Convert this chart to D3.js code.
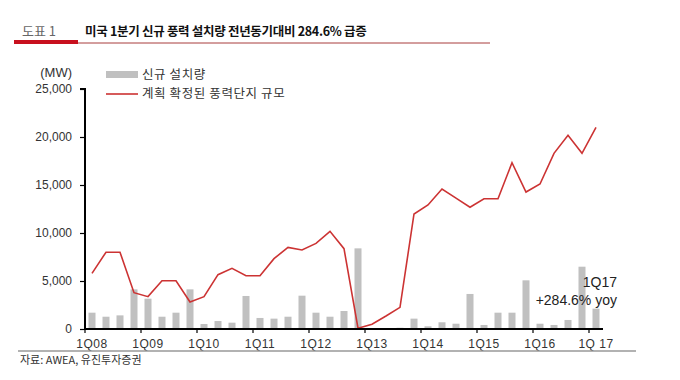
<!DOCTYPE html>
<html>
<head>
<meta charset="utf-8">
<script src="https://cdn.jsdelivr.net/npm/d3@7"></script>
<style>
  body { margin: 0; background: #fff; }
  svg { font-family: "Liberation Sans", Arial, "Noto Sans CJK KR", sans-serif; }
</style>
</head>
<body>
<svg id="chartSVG" width="680" height="380"></svg>
<script>
// quarters 1Q08 .. 1Q17
const quarters = [
  "1Q08","2Q08","3Q08","4Q08","1Q09","2Q09","3Q09","4Q09",
  "1Q10","2Q10","3Q10","4Q10","1Q11","2Q11","3Q11","4Q11",
  "1Q12","2Q12","3Q12","4Q12","1Q13","2Q13","3Q13","4Q13",
  "1Q14","2Q14","3Q14","4Q14","1Q15","2Q15","3Q15","4Q15",
  "1Q16","2Q16","3Q16","4Q16","1Q17"
];
// new installations (MW), bars
const newInstalls = [
  1700,1280,1420,4130,3160,1280,1700,4130,
  520,830,660,3440,1150,1080,1280,3470,
  1700,1280,1875,8400,100,30,130,1080,
  280,700,550,3650,420,1700,1700,5070,
  550,420,940,6490,2120
];
// confirmed wind project pipeline (MW), line
const pipeline = [
  5800,8000,8000,3780,3370,5030,5030,2810,
  3370,5660,6320,5550,5550,7330,8500,8230,
  8920,10170,8370,80,490,1350,2260,11980,
  12920,14580,13630,12680,13570,13570,17320,14270,
  15100,18300,20180,18300,21010
];
const yTicks = [0, 5000, 10000, 15000, 20000, 25000];
const yearStarts = ["1Q08","1Q09","1Q10","1Q11","1Q12","1Q13","1Q14","1Q15","1Q16","1Q17"];
const yearLabels = ["1Q08","1Q09","1Q10","1Q11","1Q12","1Q13","1Q14","1Q15","1Q16","1Q 17"];

const svg = d3.select("#chartSVG");
const plot = { left: 85, right: 603, top: 89, bottom: 329 };

const x = d3.scaleBand().domain(quarters).range([plot.left, plot.right]).paddingInner(0.5).paddingOuter(0.25);
const xc = q => x(q) + x.bandwidth() / 2;
const y = d3.scaleLinear().domain([0, 25000]).range([plot.bottom, plot.top]);

// header
svg.append("text").attr("x", 22).attr("y", 36).attr("font-size", 13).attr("fill", "#666")
  .attr("font-family", "Noto Sans CJK KR").text("도표 1");
svg.append("text").attr("x", 85).attr("y", 36).attr("font-size", 12.5).attr("font-weight", "bold")
  .attr("letter-spacing", -0.3)
  .attr("fill", "#111").attr("font-family", "Noto Sans CJK KR")
  .text("미국 1분기 신규 풍력 설치량 전년동기대비 284.6% 급증");
svg.append("rect").attr("x", 14).attr("y", 40).attr("width", 64).attr("height", 4).attr("fill", "#c8101e");
svg.append("line").attr("x1", 78).attr("x2", 490).attr("y1", 43).attr("y2", 43)
  .attr("stroke", "#a83c3c").attr("stroke-width", 1);

// bars
svg.append("g").selectAll("rect").data(quarters).join("rect")
  .attr("x", d => x(d))
  .attr("width", x.bandwidth())
  .attr("y", (d, i) => y(newInstalls[i]))
  .attr("height", (d, i) => y(0) - y(newInstalls[i]))
  .attr("fill", "#c0c0c0");

// line
const line = d3.line().x((d, i) => xc(quarters[i])).y(d => y(d));
svg.append("path").datum(pipeline).attr("d", line)
  .attr("fill", "none").attr("stroke", "#cc3333").attr("stroke-width", 1.6)
  .attr("stroke-linejoin", "miter");

// y axis
const yAxis = d3.axisLeft(y).tickValues(yTicks).tickFormat(d3.format(",")).tickSize(5).tickPadding(8);
const yg = svg.append("g").attr("transform", `translate(${plot.left},0)`).call(yAxis);
yg.select(".domain").attr("stroke", "#000").attr("stroke-width", 2).attr("d", `M-5,${plot.top}H0V${plot.bottom}`);
yg.selectAll(".tick line").attr("stroke", "#000").attr("stroke-width", 1.2);
yg.selectAll(".tick text").attr("font-size", 12).attr("fill", "#333");

// x axis
svg.append("line").attr("x1", plot.left).attr("x2", plot.right).attr("y1", plot.bottom).attr("y2", plot.bottom)
  .attr("stroke", "#000").attr("stroke-width", 2);
svg.append("g").selectAll("line").data(yearStarts).join("line")
  .attr("x1", d => x(d) - x.step() * 0.25).attr("x2", d => x(d) - x.step() * 0.25)
  .attr("y1", plot.bottom).attr("y2", plot.bottom + 4)
  .attr("stroke", "#000").attr("stroke-width", 1.2);
svg.append("g").selectAll("text").data(yearStarts).join("text")
  .attr("x", d => xc(d)).attr("y", 348)
  .attr("text-anchor", "middle").attr("font-size", 12).attr("fill", "#333")
  .attr("letter-spacing", 0.5)
  .text((d, i) => yearLabels[i]);

// unit
svg.append("text").attr("x", 72).attr("y", 77).attr("text-anchor", "end")
  .attr("font-size", 13).attr("fill", "#333").text("(MW)");

// legend
svg.append("rect").attr("x", 106).attr("y", 71).attr("width", 32).attr("height", 7).attr("fill", "#c0c0c0");
svg.append("text").attr("x", 142).attr("y", 79).attr("font-size", 12.5).attr("fill", "#333")
  .attr("letter-spacing", 0.6)
  .attr("font-family", "Noto Sans CJK KR").text("신규 설치량");
svg.append("line").attr("x1", 106).attr("x2", 138).attr("y1", 94).attr("y2", 94)
  .attr("stroke", "#cc3333").attr("stroke-width", 1.6);
svg.append("text").attr("x", 142).attr("y", 98).attr("font-size", 12.5).attr("fill", "#333")
  .attr("letter-spacing", 0.6)
  .attr("font-family", "Noto Sans CJK KR").text("계획 확정된 풍력단지 규모");

// annotation
svg.append("text").attr("x", 617).attr("y", 287).attr("text-anchor", "end")
  .attr("font-size", 14).attr("fill", "#222").text("1Q17");
svg.append("text").attr("x", 617).attr("y", 305).attr("text-anchor", "end")
  .attr("font-size", 14).attr("fill", "#222").text("+284.6% yoy");

// footer
svg.append("line").attr("x1", 18).attr("x2", 636).attr("y1", 351).attr("y2", 351)
  .attr("stroke", "#999").attr("stroke-width", 1.5);
svg.append("text").attr("x", 20).attr("y", 364).attr("font-size", 11).attr("fill", "#333")
  .attr("font-family", "Noto Sans CJK KR").text("자료: AWEA, 유진투자증권");
</script>
</body>
</html>
